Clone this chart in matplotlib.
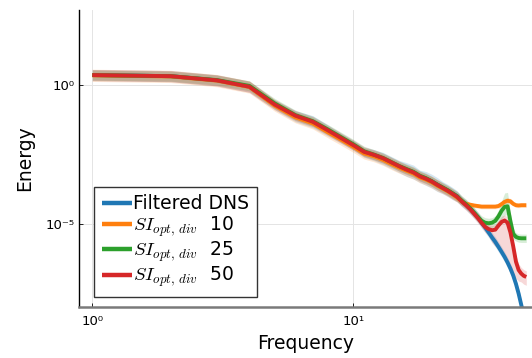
import matplotlib
matplotlib.use("Agg")
import matplotlib.pyplot as plt
import numpy as np

plt.rcParams['font.family'] = ['DejaVu Sans']
plt.rcParams['mathtext.fontset'] = 'cm'

# wavenumbers
k = np.arange(1, 47)

# log10 of energy
blue_log = [0.36, 0.32, 0.17, -0.06, -0.71, -1.12, -1.32, -1.64, -1.92, -2.17,
            -2.42, -2.52, -2.64, -2.79, -2.93, -3.04, -3.13, -3.28, -3.36, -3.46,
            -3.58, -3.69, -3.79, -3.90, -4.00, -4.18, -4.30, -4.45, -4.60, -4.75,
            -4.95, -5.12, -5.30, -5.48, -5.64, -5.82, -6.00, -6.18, -6.38, -6.60,
            -6.85, -7.15, -7.50, -7.90, -8.30, -8.80]
orange_log = [0.35, 0.31, 0.16, -0.07, -0.74, -1.16, -1.38, -1.70, -1.97, -2.22,
              -2.46, -2.56, -2.69, -2.84, -2.97, -3.08, -3.18, -3.32, -3.40, -3.50,
              -3.62, -3.72, -3.82, -3.93, -4.05, -4.18, -4.27, -4.30, -4.33, -4.35,
              -4.37, -4.37, -4.37, -4.37, -4.37, -4.35, -4.28, -4.20, -4.16, -4.18,
              -4.27, -4.32, -4.33, -4.32, -4.32, -4.32]
green_log = [0.36, 0.32, 0.18, -0.03, -0.66, -1.08, -1.30, -1.60, -1.88, -2.13,
             -2.38, -2.50, -2.62, -2.77, -2.91, -3.02, -3.12, -3.26, -3.35, -3.46,
             -3.58, -3.68, -3.78, -3.89, -4.00, -4.15, -4.28, -4.42, -4.58, -4.74,
             -4.88, -4.95, -4.97, -4.95, -4.88, -4.72, -4.52, -4.38, -4.36, -4.90,
             -5.35, -5.46, -5.50, -5.51, -5.51, -5.51]
red_log = [0.36, 0.32, 0.17, -0.06, -0.70, -1.10, -1.32, -1.63, -1.91, -2.16,
           -2.40, -2.51, -2.63, -2.78, -2.92, -3.04, -3.14, -3.28, -3.37, -3.47,
           -3.59, -3.70, -3.80, -3.91, -4.02, -4.18, -4.32, -4.46, -4.62, -4.78,
           -4.95, -5.10, -5.18, -5.22, -5.20, -5.05, -4.92, -4.87, -4.95, -5.30,
           -5.80, -6.35, -6.65, -6.78, -6.86, -6.90]

# ribbon half widths (decades), below / above the line
blue_lo = [0.2, 0.2, 0.2, 0.2, 0.18, 0.2, 0.22, 0.2, 0.18, 0.18,
           0.18, 0.2, 0.22, 0.22, 0.22, 0.25, 0.25, 0.22, 0.25, 0.25,
           0.25, 0.22, 0.22, 0.22, 0.2, 0.18, 0.18, 0.18, 0.18, 0.18,
           0.18, 0.18, 0.18, 0.18, 0.18, 0.18, 0.18, 0.18, 0.18, 0.18,
           0.18, 0.18, 0.18, 0.18, 0.18, 0.18]
blue_hi = blue_lo
orange_lo = [0.22, 0.22, 0.22, 0.22, 0.2, 0.2, 0.2, 0.2, 0.2, 0.2,
             0.2, 0.2, 0.2, 0.2, 0.2, 0.2, 0.2, 0.2, 0.2, 0.2,
             0.2, 0.18, 0.18, 0.18, 0.16, 0.14, 0.1, 0.08, 0.08, 0.08,
             0.08, 0.08, 0.08, 0.08, 0.08, 0.08, 0.1, 0.12, 0.12, 0.1,
             0.08, 0.08, 0.08, 0.08, 0.08, 0.08]
orange_hi = orange_lo
green_lo = [0.18, 0.18, 0.18, 0.18, 0.18, 0.18, 0.18, 0.18, 0.18, 0.18,
            0.18, 0.18, 0.18, 0.18, 0.18, 0.18, 0.18, 0.18, 0.18, 0.18,
            0.18, 0.18, 0.18, 0.18, 0.18, 0.18, 0.18, 0.18, 0.18, 0.18,
            0.18, 0.18, 0.18, 0.18, 0.18, 0.22, 0.3, 0.3, 0.3, 0.3,
            0.2, 0.15, 0.15, 0.15, 0.15, 0.15]
green_hi = [0.18, 0.18, 0.18, 0.18, 0.18, 0.18, 0.18, 0.18, 0.18, 0.18,
            0.18, 0.18, 0.18, 0.18, 0.18, 0.18, 0.18, 0.18, 0.18, 0.18,
            0.18, 0.18, 0.18, 0.18, 0.18, 0.18, 0.18, 0.18, 0.18, 0.18,
            0.18, 0.18, 0.18, 0.18, 0.18, 0.22, 0.35, 0.5, 0.5, 0.3,
            0.2, 0.15, 0.15, 0.15, 0.15, 0.15]
red_lo = [0.2, 0.2, 0.2, 0.2, 0.18, 0.18, 0.18, 0.18, 0.18, 0.18,
          0.18, 0.18, 0.18, 0.18, 0.18, 0.18, 0.18, 0.18, 0.18, 0.18,
          0.18, 0.18, 0.18, 0.18, 0.18, 0.18, 0.18, 0.18, 0.18, 0.18,
          0.18, 0.2, 0.25, 0.45, 0.6, 0.85, 1.1, 1.3, 1.4, 1.3,
          1.0, 0.6, 0.4, 0.3, 0.3, 0.3]
red_hi = [0.2, 0.2, 0.2, 0.2, 0.18, 0.18, 0.18, 0.18, 0.18, 0.18,
          0.18, 0.18, 0.18, 0.18, 0.18, 0.18, 0.18, 0.18, 0.18, 0.18,
          0.18, 0.18, 0.18, 0.18, 0.18, 0.18, 0.18, 0.18, 0.18, 0.18,
          0.18, 0.18, 0.18, 0.18, 0.18, 0.18, 0.2, 0.2, 0.2, 0.22,
          0.22, 0.22, 0.22, 0.22, 0.22, 0.22]

labels = ["Filtered DNS",
          r"$SI_{opt,\,div}$  10",
          r"$SI_{opt,\,div}$  25",
          r"$SI_{opt,\,div}$  50"]
colors = ["#1f77b4", "#ff7f0e", "#2ca02c", "#d62728"]

series = [(blue_log, blue_lo, blue_hi),
          (orange_log, orange_lo, orange_hi),
          (green_log, green_lo, green_hi),
          (red_log, red_lo, red_hi)]

fig = plt.figure(figsize=(5.32, 3.58), dpi=100)
ax = fig.add_axes([79.3 / 532, (358 - 306.7) / 358, (532 - 79.3) / 532, 296.7 / 358])

for (y, lo, hi), c, lab in zip(series, colors, labels):
    y = np.array(y)
    ax.fill_between(k, 10 ** (y - np.array(lo)), 10 ** (y + np.array(hi)),
                    color=c, alpha=0.18, linewidth=0)
    ax.plot(k, 10 ** y, color=c, lw=2.8, label=lab, solid_capstyle='butt')

ax.set_xscale('log')
ax.set_yscale('log')
ax.set_xlim(10 ** -0.0498, 10 ** 1.6847)
ax.set_ylim(10 ** -7.97, 10 ** 2.70)

ax.xaxis.set_major_locator(matplotlib.ticker.FixedLocator([1, 10]))
ax.xaxis.set_minor_locator(matplotlib.ticker.NullLocator())
ax.yaxis.set_major_locator(matplotlib.ticker.FixedLocator([1e-5, 1]))
ax.yaxis.set_minor_locator(matplotlib.ticker.NullLocator())
ax.set_xticklabels(["10⁰", "10¹"])
ax.set_yticklabels(["10⁻⁵", "10⁰"])
ax.tick_params(direction='in', length=3, width=0.6, labelsize=9.5, color='black')
ax.tick_params(axis='x', pad=6)

ax.grid(True, color='#e4e4e4', lw=0.7)
ax.set_axisbelow(True)
for s in ['top', 'right']:
    ax.spines[s].set_visible(False)
ax.spines['left'].set_color('black')
ax.spines['left'].set_linewidth(1.0)
ax.spines['bottom'].set_color('#7a7a7a')
ax.spines['bottom'].set_linewidth(1.8)

ax.set_xlabel("Frequency", fontsize=13.5, labelpad=4)
ax.set_ylabel("Energy", fontsize=13.5, labelpad=8)

leg = ax.legend(loc='lower left', bbox_to_anchor=(0.0325, 0.033), borderaxespad=0,
                fontsize=13.5, handlelength=1.6, handletextpad=0.1,
                labelspacing=0.05, borderpad=0.4, fancybox=False, framealpha=1,
                edgecolor='#333333')
leg.get_frame().set_linewidth(1.0)
for line in leg.get_lines():
    line.set_linewidth(3.2)

fig.savefig("out.png", dpi=100)
